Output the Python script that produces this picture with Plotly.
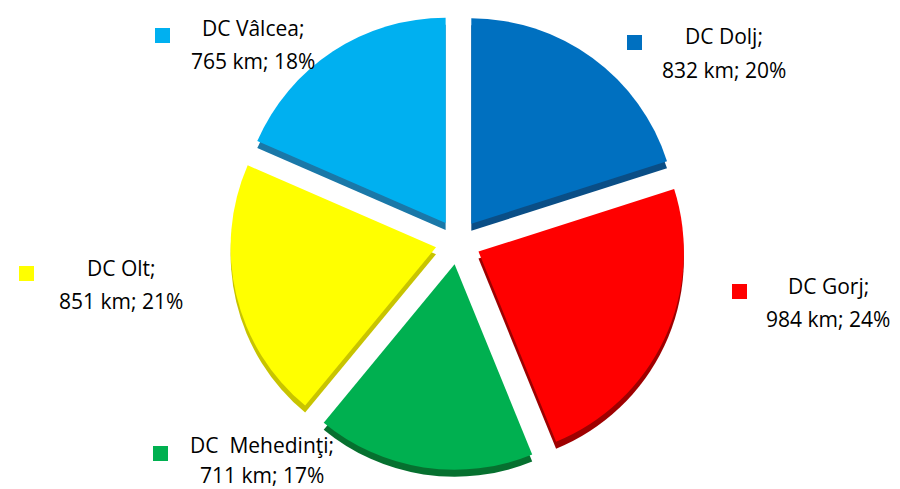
import plotly.graph_objects as go

categories = ["DC Dolj", "DC Gorj", "DC  Mehedinţi", "DC Olt", "DC Vâlcea"]
lengths_km = [832, 984, 711, 851, 765]
percent_labels = ["20%", "24%", "17%", "21%", "18%"]
colors = ["#0070C0", "#FF0000", "#00B050", "#FFFF00", "#00B0F0"]
side_colors = ["#0A4E86", "#9E0000", "#06702F", "#C8C400", "#1A78A8"]

W, H = 900, 489
pull = [0.11] * len(categories)

top_px, bot_px, shadow_px = 6, 462, 7
dom_y = [1 - bot_px / H, 1 - top_px / H]
dom_x = [0.0, 1.0]

fig = go.Figure()
# darker "side" pie to mimic 3D depth
fig.add_trace(go.Pie(
    labels=categories, values=lengths_km, sort=False, direction="clockwise", rotation=0,
    pull=pull, marker=dict(colors=side_colors, line=dict(width=0)),
    textinfo="none", hoverinfo="skip", showlegend=False,
    domain=dict(x=dom_x, y=[dom_y[0] - shadow_px / H, dom_y[1] - shadow_px / H]),
))
fig.add_trace(go.Pie(
    labels=categories, values=lengths_km, sort=False, direction="clockwise", rotation=0,
    pull=pull, marker=dict(colors=colors, line=dict(width=0)),
    textinfo="none", showlegend=False,
    domain=dict(x=dom_x, y=dom_y),
))

# label positions (pixels): square x0, square y0, text center x, line1 y, line2 y
label_pos = [
    (619, 27, 716, 35, 69),
    (724, 276, 820, 285, 318),
    (145, 438, 254, 444, 474),
    (11, 258, 113, 267, 300),
    (147, 20, 245, 27, 60),
]

font = dict(family="Open Sans, Lato, sans-serif", size=21, color="#000000")
dy = 7  # glyph-center correction
annotations = []
shapes = []
for cat, val, pct, col, (sx, sy, tx, y1, y2) in zip(categories, lengths_km, percent_labels, colors, label_pos):
    shapes.append(dict(type="rect", xref="paper", yref="paper",
                       x0=sx / W, x1=(sx + 15) / W, y0=1 - (sy + 15) / H, y1=1 - sy / H,
                       fillcolor=col, line=dict(width=0)))
    annotations.append(dict(text=cat.replace("  ", " \u00a0") + ";", x=tx / W, y=1 - (y1 - dy) / H,
                            xref="paper", yref="paper", xanchor="center", yanchor="middle",
                            showarrow=False, font=font))
    annotations.append(dict(text=f"{val} km; {pct}", x=tx / W, y=1 - (y2 - dy) / H,
                            xref="paper", yref="paper", xanchor="center", yanchor="middle",
                            showarrow=False, font=font))

fig.update_layout(
    width=W, height=H, margin=dict(l=0, r=0, t=0, b=0),
    paper_bgcolor="white", plot_bgcolor="white",
    annotations=annotations, shapes=shapes,
)

fig.write_html("out.html")
